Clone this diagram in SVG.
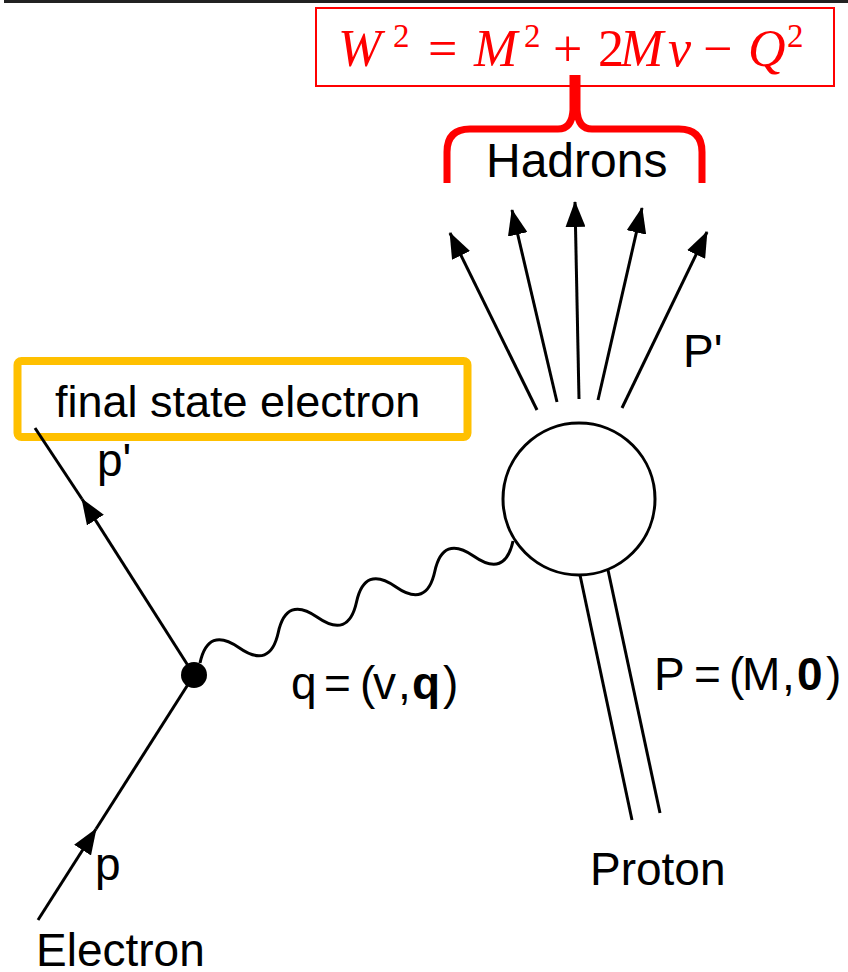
<svg xmlns="http://www.w3.org/2000/svg" width="848" height="972" viewBox="0 0 848 972">
<style>
.t{font-family:"Liberation Sans",Arial,sans-serif;font-size:46px;fill:#000}
.ln{stroke:#000;stroke-width:3;fill:none}
.eq{font-family:"Liberation Serif","Times New Roman",serif;font-size:52px;fill:#ff0000}
.it{font-style:italic}
.sup{font-size:33px}
</style>
<defs>
<marker id="ah" viewBox="0 0 26 20" refX="25" refY="10" markerWidth="26" markerHeight="20" markerUnits="userSpaceOnUse" orient="auto">
<path d="M0,0 L26,10 L0,20 z" fill="#000"/>
</marker>
</defs>
<rect width="848" height="972" fill="#fff"/>
<line x1="4" y1="1.5" x2="848" y2="1.5" stroke="#222" stroke-width="3"/>

<g id="formula">
<rect x="316" y="8" width="518" height="78" fill="#fff" stroke="#ff0000" stroke-width="2"/>
<text class="eq" y="66"><tspan class="it" x="338">W</tspan><tspan class="sup" x="393" y="47">2</tspan><tspan x="428" y="66">=</tspan><tspan class="it" x="474">M</tspan><tspan class="sup" x="524" y="47">2</tspan><tspan x="553" y="66">+</tspan><tspan x="598">2</tspan><tspan class="it" x="620">M</tspan><tspan class="it" x="668">ν</tspan><tspan x="703">−</tspan><tspan class="it" x="748">Q</tspan><tspan class="sup" x="787" y="47">2</tspan></text>
</g>

<g id="brace">
<path d="M447,183 V152 Q447,129 470,129 H558 Q572,129 573,110 V75 M702,183 V152 Q702,129 679,129 H592 Q578,129 577,110 V75" fill="none" stroke="#ff0000" stroke-width="7"/>
</g>

<g id="hadrons-label"><text class="t" x="486" y="177" style="font-size:48px">Hadrons</text></g>

<g id="final-state-box">
<rect x="17.5" y="361" width="450" height="76" rx="4" fill="none" stroke="#ffc000" stroke-width="8"/>
<text class="t" x="55" y="417" style="font-size:45px">final state electron</text>
</g>

<g id="blob">
<circle cx="579" cy="499" r="76" fill="#fff" stroke="#000" stroke-width="3"/>
</g>

<g id="vertex"><circle cx="194" cy="675" r="13" fill="#000"/></g>

<g id="connectors">
<line class="ln" x1="537" y1="410" x2="450" y2="233" marker-end="url(#ah)"/>
<line class="ln" x1="557" y1="402" x2="512" y2="210" marker-end="url(#ah)"/>
<line class="ln" x1="579" y1="399" x2="575" y2="202" marker-end="url(#ah)"/>
<line class="ln" x1="598" y1="400" x2="642" y2="208" marker-end="url(#ah)"/>
<line class="ln" x1="622" y1="408" x2="707" y2="232" marker-end="url(#ah)"/>
<line class="ln" x1="38" y1="920" x2="96" y2="829" marker-end="url(#ah)"/>
<line class="ln" x1="96" y1="829" x2="194" y2="675"/>
<line class="ln" x1="194" y1="675" x2="82" y2="499" marker-end="url(#ah)"/>
<line class="ln" x1="82" y1="499" x2="35" y2="428"/>
<line class="ln" x1="580" y1="575" x2="632" y2="820"/>
<line class="ln" x1="608" y1="570" x2="660" y2="813"/>
<path class="ln" transform="translate(200,663) rotate(-21.3)" d="M0,0 c14,-21 28,-21 42,0 c14,21 28,21 42,0 c14,-21 28,-21 42,0 c14,21 28,21 42,0 c14,-21 28,-21 42,0 c14,21 28,21 42,0 c14,-21 28,-21 42,0 c14,21 28,21 42,0"/>
</g>

<g id="labels">
<text class="t" x="683" y="367">P'</text>
<text class="t" x="97" y="476">p'</text>
<text class="t" x="95" y="880">p</text>
<text class="t" x="36" y="966">Electron</text>
<text class="t" x="590" y="885">Proton</text>
<text class="t" y="699"><tspan x="291">q</tspan><tspan x="324">=</tspan><tspan x="360">(</tspan><tspan x="373">v</tspan><tspan x="398">,</tspan><tspan x="412" font-weight="bold">q</tspan><tspan x="443">)</tspan></text>
<text class="t" y="690"><tspan x="654">P</tspan><tspan x="694">=</tspan><tspan x="729">(</tspan><tspan x="742">M</tspan><tspan x="782">,</tspan><tspan x="797" font-weight="bold">0</tspan><tspan x="826">)</tspan></text>
</g>
</svg>
